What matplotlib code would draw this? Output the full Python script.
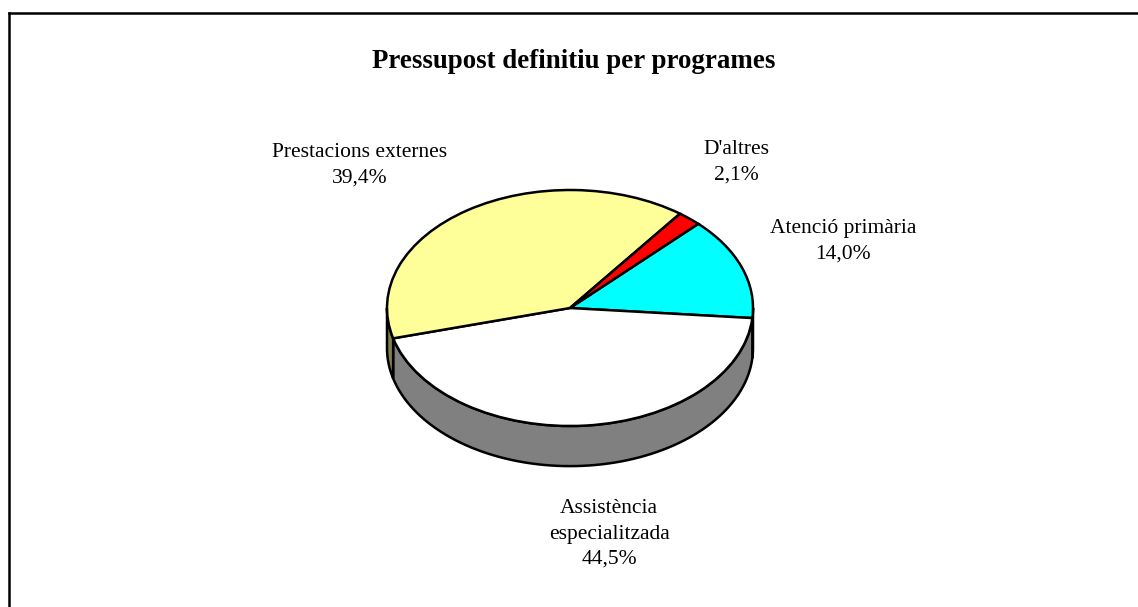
# pressupost_pie.py
# 3D-style pie: budget per programme (Excel look)

import numpy as np
import matplotlib.pyplot as plt
from matplotlib.lines import Line2D

# ── DATA ─────────────────────────────────────────────────
labels = ["Atenció primària", "Assistència\nespecialitzada",
          "Prestacions externes", "D'altres"]
shares = [14.0, 44.5, 39.4, 2.1]
pct_text = ["14,0%", "44,5%", "39,4%", "2,1%"]
colors = ["#00FFFF", "#FFFFFF", "#FFFF99", "#FF0000"]
side_colors = ["#008080", "#808080", "#80804D", "#800000"]

TITLE = "Pressupost definitiu per programes"
START = 45.5      # degrees, boundary D'altres / Atenció primària
DEPTH = 0.34      # wall height in pie-radius units (y)

# pixel geometry of the picture
W, H = 1138, 607
CX, CY = 570, 308          # pie centre (px)
RX, RY = 183, 118          # ellipse semi-axes (px)

plt.rcParams["font.family"] = ["Liberation Serif", "DejaVu Serif"]

fig = plt.figure(figsize=(W / 100, H / 100), dpi=100)
ax = fig.add_axes([0, 0, 1, 1])

# ── side walls (front half only) ─────────────────────────
fr = np.array(shares) / sum(shares)
cum = np.concatenate([[0], np.cumsum(fr)])
for i in range(len(shares)):
    t1 = START - 360 * cum[i + 1]
    t2 = START - 360 * cum[i]
    for k in (0, -360):
        lo, hi = max(t1, -180 + k), min(t2, 0 + k)
        if lo >= hi:
            continue
        t = np.radians(np.linspace(lo, hi, 80))
        xs = np.concatenate([np.cos(t), np.cos(t[::-1])])
        ys = np.concatenate([np.sin(t), np.sin(t[::-1]) - DEPTH])
        ax.fill(xs, ys, facecolor=side_colors[i], edgecolor="black",
                linewidth=1.8, zorder=1)

# ── top face ─────────────────────────────────────────────
ax.pie(shares, colors=colors, startangle=START, counterclock=False,
       wedgeprops=dict(edgecolor="black", linewidth=1.8, zorder=2),
       radius=1)

ax.set_aspect("auto")
ax.set_xlim(-CX / RX, (W - CX) / RX)
ax.set_ylim(-(H - CY) / RY, CY / RY)
ax.axis("off")

# ── labels ───────────────────────────────────────────────
def px(x, y):
    return x / W, 1 - y / H

label_pos = [(843, 241), (609, 534), (360, 165), (736, 162)]
for lab, pc, (x, y) in zip(labels, pct_text, label_pos):
    fig.text(*px(x, y), f"{lab}\n{pc}", ha="center", va="center",
             fontsize=15.5, linespacing=1.45)

fig.text(*px(574, 62), TITLE, ha="center", va="center",
         fontsize=19.4, fontweight="bold")

# ── chart frame (left + top edges visible) ───────────────
fig.add_artist(Line2D([9 / W, 9 / W], [0, 1 - 13 / H],
                      transform=fig.transFigure, color="black", linewidth=1.8))
fig.add_artist(Line2D([9 / W, 1], [1 - 13 / H, 1 - 13 / H],
                      transform=fig.transFigure, color="black", linewidth=1.8))

fig.savefig("out.png", dpi=100, facecolor="white")
